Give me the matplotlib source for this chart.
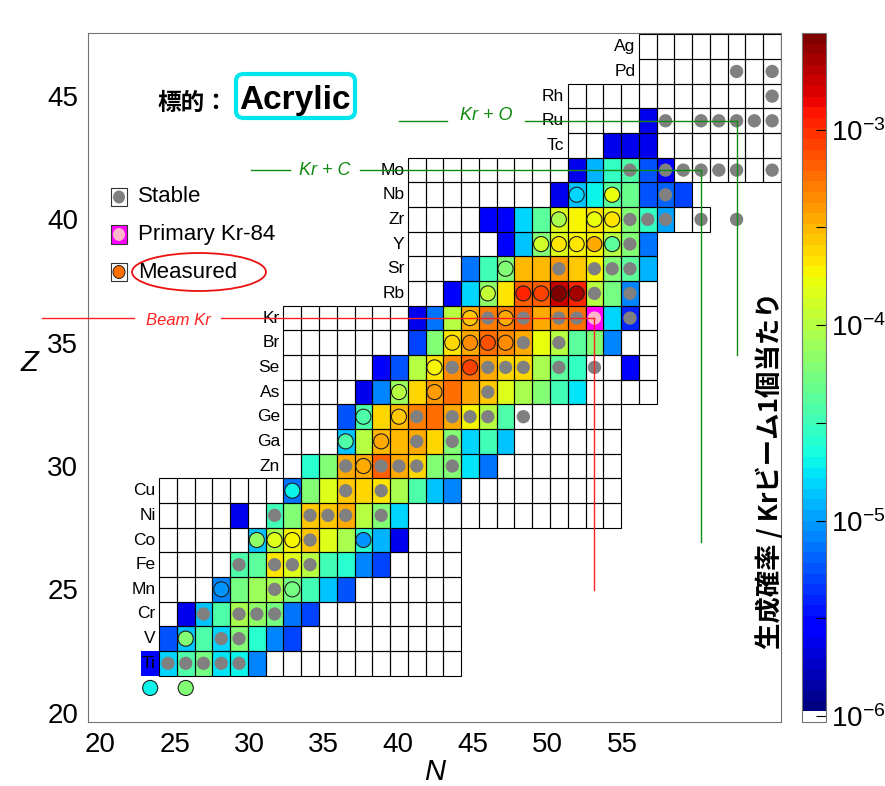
import numpy as np
import matplotlib.pyplot as plt
from matplotlib.colors import ListedColormap, LogNorm
from matplotlib.patches import Rectangle, Ellipse, FancyBboxPatch
from matplotlib.ticker import FixedLocator, NullFormatter
import matplotlib.cm as cm

plt.rcParams['font.family'] = ['Liberation Sans', 'Noto Sans CJK JP', 'DejaVu Sans']
plt.rcParams['mathtext.fontset'] = 'custom'
plt.rcParams['mathtext.rm'] = 'Liberation Sans'
plt.rcParams['mathtext.it'] = 'Liberation Sans:italic'

nan = np.nan

# rows of the chart (proton number Z) and their symbols
elements = ['Ti', 'V', 'Cr', 'Mn', 'Fe', 'Co', 'Ni', 'Cu', 'Zn', 'Ga', 'Ge', 'As', 'Se',
            'Br', 'Kr', 'Rb', 'Sr', 'Y', 'Zr', 'Nb', 'Mo', 'Tc', 'Ru', 'Rh', 'Pd', 'Ag']
z_el = list(range(22, 48))
# first / last N of the drawn grid in each row
grid_n0 = [24, 24, 24, 24, 24, 24, 24, 24, 31, 31, 31, 31, 31,
           31, 31, 38, 38, 38, 38, 38, 38, 47, 47, 47, 51, 51]
grid_n1 = [40, 40, 40, 40, 40, 40, 49, 49, 49, 49, 49, 51, 51,
           51, 51, 51, 51, 51, 54, 53, 58, 58, 58, 58, 58, 58]

# log10(production rate per Kr ion): (first N, values)
rate_Ti = (23, [-5.59, -4.80, -4.44, -4.27, -4.75, -4.71, -5.06])
rate_V = (24, [-5.24, -4.88, -4.44, -4.80, -4.22, -4.62, -5.06, -5.32])
rate_Cr = (25, [-5.63, -4.88, -4.44, -4.05, -4.18, -4.25, -5.15, -5.32])
rate_Mn = (27, [-5.10, -4.27, -4.09, -4.05, -4.27, -4.49, -4.88, -5.24])
rate_Fe = (28, [-4.44, -4.36, -3.65, -3.85, -4.00, -4.49, -4.62, -5.06, -5.32])
rate_Co = (29, [-4.88, -4.05, -3.74, -3.55, -3.85, -4.05, -4.60, -4.92, -5.63])
rate_Ni = (28, [-5.63, nan, -4.49, -4.22, -3.56, -3.56, -3.47, -4.00, -4.22, -4.80])
rate_Cu = (31, [-5.15, -4.22, -3.83, -3.56, -3.61, -3.65, -4.05, -4.44, -4.88, -5.10])
rate_Zn = (32, [-4.62, -4.22, -3.47, -3.47, -3.21, -3.47, -3.61, -4.22, -4.22, -4.75, -5.15])
rate_Ga = (34, [-4.88, -4.00, -3.52, -3.52, -3.43, -3.61, -4.22, -4.80, -4.49, -4.88])
rate_Ge = (34, [-5.24, -4.44, -3.61, -3.52, -3.30, -3.25, -3.43, -3.74, -4.00, -4.44])
rate_As = (35, [-5.63, -5.06, -4.09, -3.61, -3.39, -3.25, -3.43, -3.56, -3.83, -4.05,
                -4.22, -4.49, -4.75])
rate_Se = (36, [-5.59, -5.24, -4.00, -3.65, -3.34, -3.25, -3.47, -3.61, -3.61, -4.05,
                -4.36, -4.53, nan, nan, -5.55])
rate_Br = (38, [-5.28, -4.22, -3.65, -3.43, -3.25, -3.34, -3.43, -3.78, -4.00, -4.36,
                -4.22, -5.06])
rate_Kr = (38, [-5.63, -5.15, -4.00, -3.47, -3.30, -3.30, -3.21, -3.43, -3.34, -3.25,
                nan, -4.80, -5.40])
rate_Rb = (40, [-5.59, -4.80, -4.18, -3.65, -3.21, -3.21, -2.73, -2.95, -4.00, -4.27, -5.10])
rate_Sr = (41, [-5.15, -4.49, -4.22, -3.52, -3.52, -3.39, -3.56, -3.70, -4.22, -4.36, -4.92])
rate_Y = (43, [-5.59, -4.88, -4.22, -3.85, -3.70, -3.70, -4.00, -4.22, -5.15])
rate_Zr = (42, [-5.59, -5.59, -4.80, -4.39, -3.85, -3.74, -3.65, -3.80, -4.20, -4.53, -4.98])
rate_Nb = (46, [-5.63, -4.85, -4.71, -4.36, -4.30, -5.24, -5.20, -5.32])
rate_Mo = (47, [-5.63, -4.92, -4.53, -4.44, -5.24, -5.59])
rate_Tc = (49, [-5.63, -5.63, -5.63])
rate_Ru = (51, [-5.63])
rate_Rh = (58, [])
rate_Pd = (58, [])
rate_Ag = (58, [])
rates = [rate_Ti, rate_V, rate_Cr, rate_Mn, rate_Fe, rate_Co, rate_Ni, rate_Cu, rate_Zn,
         rate_Ga, rate_Ge, rate_As, rate_Se, rate_Br, rate_Kr, rate_Rb, rate_Sr, rate_Y,
         rate_Zr, rate_Nb, rate_Mo, rate_Tc, rate_Ru, rate_Rh, rate_Pd, rate_Ag]

# stable isotopes (Z, list of N)
stable_z = [22, 23, 24, 25, 26, 27, 28, 29, 30, 31, 32, 33, 34, 35, 36, 37, 38, 39, 40,
            41, 42, 44, 45, 46]
stable_n = [[24, 25, 26, 27, 28], [27, 28], [26, 28, 29, 30], [30], [28, 30, 31, 32], [32],
            [30, 32, 33, 34, 36], [34, 36], [34, 36, 37, 38, 40], [38, 40],
            [38, 40, 41, 42, 44], [42], [40, 42, 43, 44, 46, 48], [44, 46],
            [42, 44, 46, 47, 50], [48, 50], [46, 48, 49, 50], [50], [50, 51, 52, 54, 56],
            [52], [50, 52, 53, 54, 55, 56, 58], [52, 54, 55, 56, 57, 58], [58], [56, 58]]

# measured isotopes (Z, N, log10 rate)
meas_z = [21, 21, 23, 25, 25, 27, 27, 27, 27, 29, 30, 31, 31, 32, 32, 33, 33, 34, 34,
          35, 35, 35, 35, 36, 36, 37, 37, 37, 37, 37, 38, 39, 39, 39, 39, 39, 40, 40, 40,
          41, 41]
meas_n = [23, 25, 25, 27, 31, 29, 30, 31, 35, 31, 35, 34, 36, 35, 37, 37, 39, 39, 41,
          40, 41, 42, 43, 41, 43, 42, 44, 45, 46, 47, 43, 45, 46, 47, 48, 49, 46, 48, 49,
          47, 49]
meas_v = [-4.72, -4.20, -4.20, -5.02, -4.27, -4.15, -3.82, -3.70, -5.05, -4.72, -3.43,
          -4.45, -3.43, -4.45, -3.55, -4.02, -3.40, -3.70, -3.10, -3.60, -3.36, -3.15,
          -3.36, -3.55, -3.45, -3.95, -2.97, -3.10, -2.52, -2.65, -4.20, -3.90, -3.65,
          -3.65, -3.43, -4.35, -4.05, -3.78, -3.65, -4.80, -3.80]

beam_z, beam_n = 36, 48          # Kr-84 beam
krc_z, krc_n = 42, 54            # Kr + C
kro_z, kro_n = 44, 56            # Kr + O

jet = plt.get_cmap('jet', 64)
cmap = ListedColormap(np.vstack([[1, 1, 1, 1], jet(np.arange(64))]))
norm = LogNorm(10 ** -6.03, 10 ** -2.505)


def col(v):
    return cmap(norm(10 ** v))


W, H = 885, 786
fig = plt.figure(figsize=(W / 100, H / 100), dpi=100)
ax = fig.add_axes([88 / W, 64 / H, 693 / W, 689 / H])
ax.set_xlim(19.195, 65.66)
ax.set_ylim(19.62, 47.56)
ax.set_xticks(range(20, 60, 5))
ax.set_yticks(range(20, 50, 5))
ax.tick_params(labelsize=20, length=0, pad=7)
for s in ax.spines.values():
    s.set_color('0.45')
ax.set_xlabel('N', fontsize=21, style='italic', labelpad=0)
ax.set_ylabel('Z', fontsize=21, style='italic', rotation=0, labelpad=22)
ax.yaxis.set_label_coords(-0.085, 0.5)

# the nuclide chart itself has its own N scale
ax2 = ax.twiny()
ax2.set_xlim(19.5, 58.5)
ax2.set_xticks([])
for s in ax2.spines.values():
    s.set_visible(False)

for z, sym, n0, n1, (r0, vals) in zip(z_el, elements, grid_n0, grid_n1, rates):
    for i, v in enumerate(vals):
        n = r0 + i
        if not np.isnan(v):
            ax2.add_patch(Rectangle((n - 0.5, z - 0.5), 1, 1, facecolor=col(v),
                                    edgecolor='none', zorder=1))
    for n in range(n0, n1 + 1):
        ax2.add_patch(Rectangle((n - 0.5, z - 0.5), 1, 1, facecolor='none',
                                edgecolor='black', lw=0.8, zorder=2))
    ax2.text(n0 - 0.7, z, sym, ha='right', va='center', fontsize=12.5, zorder=5)

# primary beam cell
ax2.add_patch(Rectangle((beam_n - 0.5, beam_z - 0.5), 1, 1, facecolor='#ff00ff',
                        edgecolor='black', lw=0.8, zorder=2))

sx = [n for z, ns in zip(stable_z, stable_n) for n in ns]
sy = [z for z, ns in zip(stable_z, stable_n) for n in ns]
ax2.scatter(sx, sy, s=92, color='#808080', edgecolor='none', zorder=4)
ax2.scatter(meas_n, meas_z, s=118, c=[col(v) for v in meas_v], edgecolor='#202020',
            linewidth=0.8, zorder=4)
ax2.scatter([beam_n], [beam_z], s=92, color='#ffb6c8', edgecolor='none', zorder=4)

# reaction guide lines
red = '#ff2020'
grn = '#108a10'
ax2.plot([16.9, 22.1], [beam_z, beam_z], color=red, lw=1, clip_on=False, zorder=6)
ax2.plot([27.0, beam_n], [beam_z, beam_z], color=red, lw=1, zorder=6)
ax2.plot([beam_n, beam_n], [beam_z, 24.97], color=red, lw=1, zorder=6)
ax2.text(24.6, beam_z - 0.1, 'Beam Kr', color=red, style='italic', fontsize=12,
         ha='center', va='center', zorder=6)
ax2.plot([28.7, 30.85], [krc_z, krc_z], color=grn, lw=1, zorder=6)
ax2.plot([34.8, krc_n], [krc_z, krc_z], color=grn, lw=1, zorder=6)
ax2.plot([krc_n, krc_n], [krc_z, 26.9], color=grn, lw=1, zorder=6)
ax2.text(32.85, krc_z, 'Kr + C', color=grn, style='italic', fontsize=13,
         ha='center', va='center', zorder=6)
ax2.plot([37.0, 39.7], [kro_z, kro_z], color=grn, lw=1, zorder=6)
ax2.plot([44.1, kro_n], [kro_z, kro_z], color=grn, lw=1, zorder=6)
ax2.plot([kro_n, kro_n], [kro_z, 34.5], color=grn, lw=1, zorder=6)
ax2.text(41.9, kro_z + 0.2, 'Kr + O', color=grn, style='italic', fontsize=13,
         ha='center', va='center', zorder=6)

# target annotation
fig.text(157 / W, 1 - 103 / H, '標的：', fontsize=17, fontweight='bold',
         family=['Noto Sans CJK JP', 'DejaVu Sans'], ha='left', va='center')
fig.patches.append(FancyBboxPatch((236 / W, 1 - 118 / H), 119 / W, 44 / H,
                                  boxstyle='round,pad=0,rounding_size=0.009',
                                  transform=fig.transFigure, fc='white',
                                  ec='#00e5ee', lw=3))
fig.text(295 / W, 1 - 100 / H, 'Acrylic', fontsize=24, fontweight='bold',
         ha='center', va='center')

# legend
leg_items = [('Stable', 'white', '#808080', 'none'),
             ('Primary Kr-84', '#ff00ff', '#ffb6c8', 'none'),
             ('Measured', 'white', '#ff7000', '#202020')]
for k, (lab, fc, dc, ec) in enumerate(leg_items):
    yc = 197 + 37.5 * k
    fig.patches.append(Rectangle((111 / W, 1 - (yc + 9) / H), 16 / W, 18 / H,
                                 transform=fig.transFigure, fc=fc, ec='0.2', lw=0.8))
    fig.patches.append(Ellipse((119 / W, 1 - yc / H), 12 / W, 13 / H,
                               transform=fig.transFigure, fc=dc, ec=ec, lw=0.7))
    fig.text(138 / W, 1 - yc / H, lab, fontsize=16, ha='left', va='center')
fig.patches.append(Ellipse((199 / W, 1 - 272 / H), 134 / W, 38 / H,
                           transform=fig.transFigure, fc='none', ec='#ee1010', lw=1.3))

# colour bar
cax = fig.add_axes([802 / W, 64 / H, 24 / W, 689 / H])
sm = cm.ScalarMappable(norm=norm, cmap=cmap)
cb = fig.colorbar(sm, cax=cax)
cb.set_ticks([1e-6, 1e-5, 1e-4, 1e-3])
cb.set_ticklabels([r'$\mathregular{10^{-6}}$', r'$\mathregular{10^{-5}}$',
                   r'$\mathregular{10^{-4}}$', r'$\mathregular{10^{-3}}$'])
cax.yaxis.set_minor_locator(FixedLocator([10 ** -5.5, 10 ** -4.5, 10 ** -3.5]))
cax.yaxis.set_minor_formatter(NullFormatter())
cax.tick_params(which='both', direction='in', labelsize=20, length=7, width=0.8)
cb.outline.set_edgecolor('0.45')
fig.text(770 / W, 1 - 470 / H, '生成確率 / Krビーム1個当たり', rotation=90,
         fontsize=19, fontweight='bold', family=['Noto Sans CJK JP', 'DejaVu Sans'],
         ha='center', va='center')

fig.savefig('out.png', dpi=100)
